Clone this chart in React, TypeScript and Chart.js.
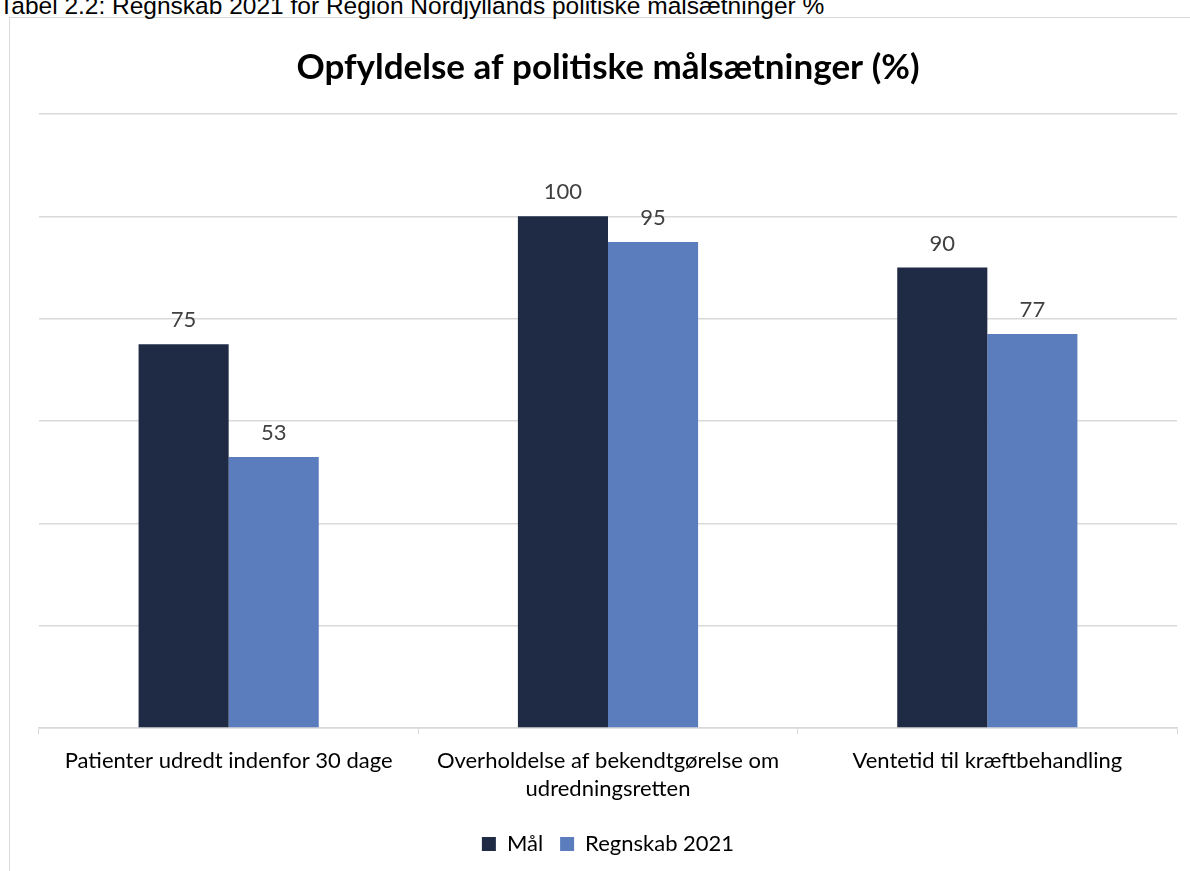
import React, { useEffect, useRef } from "react";
import { Chart, registerables } from "chart.js";

Chart.register(...registerables);

const categories: (string | string[])[] = [
  "Patienter udredt indenfor 30 dage",
  ["Overholdelse af bekendtgørelse om", "udredningsretten"],
  "Ventetid til kræftbehandling",
];
const seriesNames = ["Mål", "Regnskab 2021"];
const malValues = [75, 100, 90];
const regnskabValues = [53, 95, 77];
const seriesColors = ["#1F2A44", "#5B7DBE"];
const chartTitle = "Opfyldelse af politiske målsætninger (%)";
const caption = "Tabel 2.2: Regnskab 2021 for Region Nordjyllands politiske målsætninger %";

const FONT = "Lato, 'Noto Sans', sans-serif";

const valueLabels = {
  id: "valueLabels",
  afterDatasetsDraw(chart: any) {
    const ctx = chart.ctx;
    ctx.save();
    ctx.font = `22px ${FONT}`;
    ctx.fillStyle = "#404040";
    ctx.textAlign = "center";
    ctx.textBaseline = "middle";
    chart.data.datasets.forEach((ds: any, i: number) => {
      const meta = chart.getDatasetMeta(i);
      meta.data.forEach((bar: any, j: number) => {
        ctx.fillText(String(ds.data[j]), bar.x, bar.y - 24);
      });
    });
    ctx.restore();
  },
};

export default function App() {
  const ref = useRef<HTMLCanvasElement>(null);
  useEffect(() => {
    if (!ref.current) return;
    const chart = new Chart(ref.current, {
      type: "bar",
      data: {
        labels: categories,
        datasets: [
          { label: seriesNames[0], data: malValues, backgroundColor: seriesColors[0] },
          { label: seriesNames[1], data: regnskabValues, backgroundColor: seriesColors[1] },
        ],
      },
      options: {
        animation: false,
        responsive: false,
        devicePixelRatio: 1,
        layout: { padding: { left: 39, right: 13, top: 17, bottom: 6 } },
        datasets: { bar: { barPercentage: 1, categoryPercentage: 0.475 } } as any,
        plugins: {
          title: {
            display: true,
            text: chartTitle,
            color: "#000000",
            font: { family: FONT, size: 35, weight: "bold", lineHeight: 1.2 },
            padding: { top: 30, bottom: 25 },
          },
          legend: {
            display: true,
            position: "bottom",
            labels: {
              color: "#000000",
              font: { family: FONT, size: 22 },
              boxWidth: 14,
              boxHeight: 14,
              padding: 17,
            },
          },
          tooltip: { enabled: false },
        },
        scales: {
          x: {
            grid: {
              display: true,
              drawOnChartArea: false,
              drawTicks: true,
              tickLength: 6,
              color: "#D9D9D9",
              offset: true,
            },
            border: { display: true, color: "#D9D9D9", width: 1.5 },
            ticks: {
              color: "#000000",
              font: { family: FONT, size: 22, lineHeight: 1.27 },
              padding: 13,
              maxRotation: 0,
              autoSkip: false,
            },
          },
          y: {
            min: 0,
            max: 120,
            ticks: { display: false, stepSize: 20 },
            grid: { color: "#D9D9D9", drawTicks: false, lineWidth: 1.5 },
            border: { display: false },
          },
        },
      },
      plugins: [valueLabels],
    });
    return () => chart.destroy();
  }, []);

  return (
    <div
      style={{
        position: "fixed",
        left: 0,
        top: 0,
        width: 1190,
        height: 871,
        overflow: "hidden",
        background: "#ffffff",
      }}
    >
      <div
        style={{
          position: "absolute",
          left: 9,
          top: 17,
          width: 1300,
          height: 1000,
          border: "1px solid #D9D9D9",
          boxSizing: "border-box",
        }}
      />
      <div
        style={{
          position: "absolute",
          left: -1,
          top: -8.5,
          fontFamily: "'Liberation Sans', Arial, sans-serif",
          fontSize: 24.5,
          lineHeight: "28px",
          color: "#000000",
          whiteSpace: "nowrap",
        }}
      >
        {caption}
      </div>
      <canvas
        ref={ref}
        width={1190}
        height={871}
        style={{ position: "absolute", left: 0, top: 0, width: 1190, height: 871 }}
      />
    </div>
  );
}
